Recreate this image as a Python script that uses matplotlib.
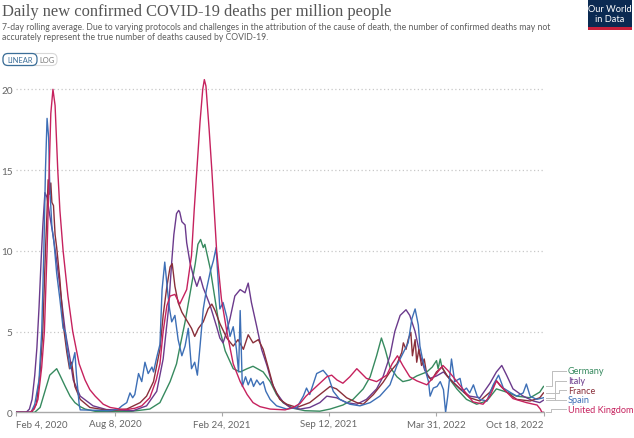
import matplotlib
matplotlib.use("Agg")
import matplotlib.pyplot as plt
import matplotlib.dates as mdates
from matplotlib.patches import FancyBboxPatch, Rectangle
import pandas as pd


# Data (7-day average, deaths per million)

germany_dates = ['2020-02-04', '2020-03-11', '2020-03-21', '2020-03-30', '2020-04-08', '2020-04-21',
                 '2020-04-27', '2020-05-07', '2020-05-16', '2020-05-25', '2020-06-04', '2020-06-13',
                 '2020-07-02', '2020-09-05', '2020-10-12', '2020-10-31', '2020-11-19', '2020-12-01',
                 '2020-12-07', '2020-12-17', '2020-12-26', '2021-01-05', '2021-01-10', '2021-01-15',
                 '2021-01-20', '2021-01-23', '2021-02-02', '2021-02-11', '2021-02-20', '2021-03-02',
                 '2021-03-17', '2021-03-30', '2021-04-12', '2021-04-23', '2021-05-12', '2021-05-25',
                 '2021-06-06', '2021-06-18', '2021-07-07', '2021-07-29', '2021-08-26', '2021-09-14',
                 '2021-10-08', '2021-10-27', '2021-11-15', '2021-11-28', '2021-12-10', '2021-12-19',
                 '2021-12-26', '2022-01-04', '2022-01-17', '2022-01-28', '2022-02-10', '2022-02-23',
                 '2022-03-14', '2022-03-24', '2022-04-01', '2022-04-04', '2022-04-08', '2022-04-11',
                 '2022-04-20', '2022-05-09', '2022-05-27', '2022-06-15', '2022-07-04', '2022-07-22',
                 '2022-08-10', '2022-08-29', '2022-09-23', '2022-10-11', '2022-10-18']
germany_vals = [0, 0, 0.3, 1.3, 2.3, 2.7,
                2.3, 1.6, 1.0, 0.6, 0.35, 0.2,
                0.06, 0.05, 0.2, 0.6, 1.9, 3.0,
                4.0, 5.6, 7.3, 9.2, 10.4, 10.7,
                10.2, 10.4, 8.9, 7.0, 5.1, 3.8,
                2.7, 2.5, 2.7, 2.85, 2.5, 1.9,
                1.1, 0.6, 0.25, 0.1, 0.07, 0.2,
                0.45, 0.8, 1.45, 2.2, 3.5, 4.6,
                3.9, 2.8, 2.2, 1.9, 2.0, 2.25,
                2.5, 2.8, 3.2, 2.7, 3.3, 2.8,
                2.3, 1.45, 0.8, 0.5, 0.7, 1.45,
                1.25, 1.0, 0.9, 1.25, 1.6]

italy_dates = ['2020-02-04', '2020-02-24', '2020-03-01', '2020-03-06', '2020-03-11', '2020-03-15',
               '2020-03-19', '2020-03-23', '2020-03-26', '2020-03-30', '2020-04-03', '2020-04-08',
               '2020-04-14', '2020-04-20',
               '2020-04-27', '2020-05-07', '2020-05-16', '2020-05-22', '2020-06-04', '2020-06-16',
               '2020-06-28', '2020-07-23', '2020-09-11', '2020-10-06', '2020-10-25', '2020-11-06',
               '2020-11-16', '2020-11-22', '2020-11-26', '2020-12-01', '2020-12-05', '2020-12-07',
               '2020-12-11', '2020-12-17', '2020-12-20', '2020-12-26', '2021-01-01', '2021-01-08',
               '2021-01-14', '2021-01-20', '2021-01-26', '2021-02-02', '2021-02-14', '2021-02-20',
               '2021-02-26', '2021-03-03', '2021-03-11', '2021-03-20', '2021-03-30', '2021-04-08',
               '2021-04-14', '2021-04-20', '2021-04-30', '2021-05-09', '2021-05-19', '2021-05-28',
               '2021-06-06', '2021-06-19', '2021-07-01', '2021-07-20', '2021-08-07', '2021-08-26',
               '2021-09-08', '2021-09-26', '2021-10-15', '2021-11-03', '2021-11-21', '2021-12-10',
               '2021-12-22', '2022-01-04', '2022-01-13', '2022-01-23', '2022-02-03', '2022-02-10',
               '2022-02-20', '2022-03-01', '2022-03-10', '2022-03-20', '2022-04-01', '2022-04-14',
               '2022-04-26', '2022-05-15', '2022-06-02', '2022-06-21', '2022-07-10', '2022-07-22',
               '2022-08-01', '2022-08-10', '2022-08-22', '2022-09-10', '2022-09-29', '2022-10-11',
               '2022-10-18']
italy_vals = [0, 0, 0.2, 0.8, 2.3, 4.0,
              6.5, 9.5, 11.5, 13.6, 13.3, 12.2,
              11.0, 9.6,
              7.8, 5.0, 3.3, 2.0, 1.0, 0.7,
              0.4, 0.17, 0.1, 0.4, 1.3, 3.3,
              6.4, 9.3, 11.0, 12.3, 12.5, 12.4,
              11.8, 11.6, 10.5, 9.3, 8.5, 7.8,
              8.4, 7.7, 7.2, 6.6, 5.3, 4.6,
              4.3, 4.8, 5.8, 7.2, 7.6, 7.4,
              8.0, 6.8, 5.3, 3.9, 2.9, 1.85,
              1.2, 0.6, 0.3, 0.2, 0.3, 0.6,
              1.0, 0.9, 0.6, 0.5, 0.8, 1.45,
              2.2, 3.5, 5.0, 6.0, 6.35, 6.0,
              5.0, 3.6, 2.6, 2.1, 2.25, 2.5,
              2.06, 1.45, 1.0, 0.9, 1.8, 2.5,
              2.9, 2.3, 1.45, 1.0, 0.7, 0.6,
              0.75]

france_dates = ['2020-02-04', '2020-03-05', '2020-03-14', '2020-03-21', '2020-03-26', '2020-03-31',
                '2020-04-03', '2020-04-05', '2020-04-08', '2020-04-10', '2020-04-12', '2020-04-15',
                '2020-04-18', '2020-04-21', '2020-04-27', '2020-05-03', '2020-05-10', '2020-05-15',
                '2020-05-19', '2020-05-25', '2020-06-04', '2020-06-22', '2020-07-30', '2020-08-30',
                '2020-09-24', '2020-10-06', '2020-10-19', '2020-10-31', '2020-11-06', '2020-11-13',
                '2020-11-19', '2020-11-23', '2020-11-28', '2020-12-04', '2020-12-11', '2020-12-20',
                '2020-12-29', '2021-01-04', '2021-01-11', '2021-01-20', '2021-01-29', '2021-02-05',
                '2021-02-11', '2021-02-20', '2021-03-05', '2021-03-17', '2021-03-26', '2021-04-05',
                '2021-04-14', '2021-04-23', '2021-05-03', '2021-05-12', '2021-05-22', '2021-05-31',
                '2021-06-12', '2021-06-25', '2021-07-14', '2021-08-07', '2021-08-26', '2021-09-14',
                '2021-09-26', '2021-10-15', '2021-11-03', '2021-11-15', '2021-12-04', '2021-12-22',
                '2022-01-04', '2022-01-17', '2022-01-26', '2022-01-29', '2022-02-03', '2022-02-07',
                '2022-02-12', '2022-02-15', '2022-02-20', '2022-02-23', '2022-02-27', '2022-03-04',
                '2022-03-09', '2022-03-14', '2022-03-23', '2022-04-01', '2022-04-11', '2022-04-20',
                '2022-05-02', '2022-05-15', '2022-06-02', '2022-06-21', '2022-07-10', '2022-07-22',
                '2022-07-29', '2022-08-10', '2022-08-29', '2022-09-23', '2022-10-11', '2022-10-18']
france_vals = [0, 0, 0.5, 2.5, 5.0, 10.0,
               12.5, 14.4, 13.5, 14.2, 13.0, 12.8,
               11.0, 10.2, 8.2, 5.5, 3.7, 2.7,
               3.1, 1.6, 0.8, 0.3, 0.1, 0.2,
               0.6, 1.0, 1.9, 3.9, 6.0, 7.8,
               9.0, 9.2, 7.8, 6.8, 6.2, 5.7,
               5.2, 4.7, 5.2, 5.6, 6.4, 6.7,
               6.3, 5.5, 4.6, 4.1, 4.5, 3.9,
               4.8, 4.3, 4.5, 3.9, 2.7, 1.6,
               0.8, 0.5, 0.3, 0.6, 1.1, 1.6,
               1.45, 0.9, 0.6, 0.5, 1.1, 1.85,
               2.5, 3.0, 3.7, 4.3, 3.9, 4.5,
               4.95, 3.5, 4.5, 3.1, 3.9, 2.9,
               3.3, 2.3, 2.0, 2.5, 2.8, 2.3,
               1.85, 1.45, 0.9, 0.7, 1.25, 1.95,
               1.65, 1.25, 0.8, 0.7, 0.9, 1.2]

spain_dates = ['2020-02-04', '2020-03-04', '2020-03-11', '2020-03-19', '2020-03-24', '2020-03-28',
               '2020-03-31', '2020-04-03', '2020-04-06', '2020-04-08', '2020-04-12', '2020-04-16',
               '2020-04-21', '2020-04-27', '2020-05-03', '2020-05-07', '2020-05-10', '2020-05-16',
               '2020-05-20', '2020-05-25', '2020-05-28', '2020-06-02', '2020-06-04', '2020-07-30',
               '2020-08-14', '2020-08-21', '2020-08-30', '2020-09-05', '2020-09-10', '2020-09-14',
               '2020-09-21', '2020-09-27', '2020-10-03', '2020-10-09', '2020-10-16', '2020-10-19',
               '2020-10-25', '2020-10-31', '2020-11-04', '2020-11-09', '2020-11-14', '2020-11-18',
               '2020-11-22', '2020-11-28', '2020-12-04', '2020-12-11', '2020-12-17', '2020-12-23',
               '2020-12-29', '2021-01-04', '2021-01-09', '2021-01-14', '2021-01-20', '2021-01-26',
               '2021-02-02', '2021-02-08', '2021-02-13', '2021-02-17', '2021-02-20', '2021-02-26',
               '2021-03-05', '2021-03-11', '2021-03-17', '2021-03-23', '2021-03-27', '2021-03-30',
               '2021-04-03', '2021-04-09', '2021-04-14', '2021-04-19', '2021-04-24', '2021-04-30',
               '2021-05-06', '2021-05-12', '2021-05-17', '2021-05-25', '2021-06-06', '2021-06-25',
               '2021-07-14', '2021-07-26', '2021-08-01', '2021-08-07', '2021-08-13', '2021-08-20',
               '2021-08-26', '2021-09-01', '2021-09-11', '2021-09-20', '2021-10-02', '2021-10-21',
               '2021-11-09', '2021-11-28', '2021-12-16', '2022-01-04', '2022-01-17', '2022-01-29',
               '2022-02-07', '2022-02-14', '2022-02-20', '2022-02-26', '2022-03-01', '2022-03-07',
               '2022-03-17', '2022-03-20', '2022-03-26', '2022-04-02', '2022-04-08', '2022-04-14',
               '2022-04-18', '2022-04-22', '2022-04-29', '2022-05-05', '2022-05-15', '2022-05-20',
               '2022-05-27', '2022-06-02', '2022-06-09', '2022-06-16', '2022-06-21', '2022-07-04',
               '2022-07-16', '2022-07-26', '2022-08-04', '2022-08-16', '2022-08-29', '2022-09-10',
               '2022-09-16', '2022-09-23', '2022-10-05', '2022-10-18']
spain_vals = [0, 0, 0.5, 2.0, 5.0, 10.0,
              15.0, 18.2, 17.0, 14.0, 11.5, 10.5,
              8.6, 7.0, 5.2, 5.0, 4.1, 2.7,
              3.0, 3.7, 2.3, 0.5, 0.15, 0.1,
              0.2, 0.4, 0.6, 1.2, 0.9, 1.1,
              2.4, 1.9, 3.1, 2.4, 2.8, 2.5,
              3.4, 4.2, 7.6, 9.3, 7.6, 6.4,
              5.6, 6.0, 4.5, 3.5, 4.1, 5.2,
              2.7, 3.1, 2.3, 4.1, 6.4, 7.6,
              8.7, 9.4, 10.2, 8.0, 6.4, 6.8,
              5.9, 4.7, 5.3, 3.9, 2.5, 6.3,
              1.6, 2.2, 1.7, 2.1, 1.6, 2.0,
              1.7, 1.9, 1.3, 0.8, 0.4, 0.2,
              0.3, 1.0, 1.5, 1.1, 1.7, 2.4,
              2.5, 2.6, 2.2, 1.3, 0.8, 0.5,
              0.4, 0.6, 1.0, 1.7, 2.9, 3.7,
              4.3, 5.8, 6.4, 5.4, 4.1, 3.1,
              1.9, 1.0, 1.5, 1.6, 1.9, 1.4,
              0.0, 1.0, 3.3, 1.9, 2.1, 1.3,
              1.5, 1.2, 1.7, 1.0, 0.8, 0.7,
              1.7, 2.3, 1.5, 1.25, 1.0, 1.2,
              1.75, 1.0, 0.8, 0.9]

uk_dates = ['2020-02-04', '2020-03-02', '2020-03-10', '2020-03-17', '2020-03-24', '2020-03-29',
            '2020-04-03', '2020-04-07', '2020-04-10', '2020-04-14', '2020-04-18', '2020-04-23',
            '2020-04-27', '2020-05-03', '2020-05-12', '2020-05-21', '2020-06-02', '2020-06-13',
            '2020-06-22', '2020-07-02', '2020-07-17', '2020-07-30', '2020-08-17', '2020-08-30',
            '2020-09-14', '2020-09-27', '2020-10-12', '2020-10-24', '2020-10-31', '2020-11-06',
            '2020-11-13', '2020-11-19', '2020-11-28', '2020-12-07', '2020-12-20', '2020-12-29',
            '2021-01-03', '2021-01-08', '2021-01-14', '2021-01-19', '2021-01-22', '2021-01-25',
            '2021-01-31', '2021-02-05', '2021-02-14', '2021-02-23', '2021-03-05', '2021-03-17',
            '2021-03-30', '2021-04-12', '2021-04-23', '2021-05-06', '2021-05-25', '2021-06-22',
            '2021-07-07', '2021-07-20', '2021-07-31', '2021-08-13', '2021-08-26', '2021-09-08',
            '2021-09-17', '2021-09-27', '2021-10-08', '2021-10-21', '2021-11-03', '2021-11-21',
            '2021-12-10', '2021-12-29', '2022-01-08', '2022-01-18', '2022-01-28', '2022-02-10',
            '2022-02-23', '2022-03-14', '2022-04-01', '2022-04-13', '2022-04-22', '2022-05-02',
            '2022-05-20', '2022-06-08', '2022-06-27', '2022-07-10', '2022-07-22', '2022-08-03',
            '2022-08-22', '2022-09-16', '2022-10-06', '2022-10-12', '2022-10-15', '2022-10-18']
uk_vals = [0, 0, 0.2, 0.8, 2.8, 5.0,
           10.0, 15.0, 18.5, 20.0, 19.0, 15.0,
           12.5, 10.0, 7.2, 5.0, 3.0, 2.0,
           1.4, 1.0, 0.5, 0.3, 0.2, 0.17,
           0.25, 0.4, 0.9, 2.0, 3.0, 5.0,
           6.6, 7.2, 7.3, 6.7, 7.6, 9.7,
           12.5, 15.0, 18.0, 20.0, 20.6, 20.2,
           17.5, 15.0, 10.0, 7.0, 5.0, 3.0,
           1.9, 1.1, 0.6, 0.35, 0.2, 0.15,
           0.3, 0.55, 1.0, 1.4, 1.8, 2.2,
           2.3, 2.0, 1.8, 2.2, 2.7, 2.1,
           1.9, 2.3, 3.0, 3.5, 2.9, 2.2,
           1.95, 1.7, 2.4, 2.9, 2.6, 2.2,
           1.45, 0.65, 0.5, 1.0, 1.95, 1.5,
           0.85, 0.6, 0.45, 0.2, 0.0, 0.0]

countries = ['Germany', 'Italy', 'France', 'Spain', 'United Kingdom']
colors = ['#378a5f', '#6b3a8c', '#8a2f3a', '#3d6fb6', '#c6225e']

tick_dates = ['2020-02-04', '2020-08-08', '2021-02-24', '2021-09-12', '2022-03-31', '2022-10-18']
tick_labels = ['Feb 4, 2020', 'Aug 8, 2020', 'Feb 24, 2021', 'Sep 12, 2021', 'Mar 31, 2022', 'Oct 18, 2022']


W, H = 634, 439
fig = plt.figure(figsize=(W / 100, H / 100), dpi=100)
fig.patch.set_facecolor('white')

# main plot area (pixel box measured on the reference)
ax = fig.add_axes([15.5 / W, (H - 413.3) / H, 528 / W, 21 * 16.15 / H])

series = [
    (germany_dates, germany_vals),
    (italy_dates, italy_vals),
    (france_dates, france_vals),
    (spain_dates, spain_vals),
    (uk_dates, uk_vals),
]
for (d, v), c in zip(series, colors):
    ax.plot(pd.to_datetime(d), v, color=c, lw=1.0, solid_joinstyle='round', zorder=3)

ax.set_xlim(pd.Timestamp('2020-02-04'), pd.Timestamp('2022-10-18'))
ax.set_ylim(0, 21)

for y in [5, 10, 15, 20]:
    ax.axhline(y, color='#c8c8c8', lw=0.9, ls=(0, (1, 2)), zorder=1)

for s in ['top', 'right', 'left']:
    ax.spines[s].set_visible(False)
ax.spines['bottom'].set_color('#a8a8a8')
ax.spines['bottom'].set_linewidth(1.0)

ax.set_yticks([0, 5, 10, 15, 20])
ax.set_yticklabels(['0', '5', '10', '15', '20'])
ax.tick_params(axis='y', length=0, pad=2, labelsize=7.2, labelcolor='#666666')
for lab in ax.get_yticklabels():
    lab.set_family('Lato')

ax.set_xticks(pd.to_datetime(tick_dates))
ax.set_xticklabels(tick_labels)
ax.tick_params(axis='x', length=3, width=0.8, color='#a8a8a8', pad=2,
               labelsize=7.0, labelcolor='#666666')
xl = ax.get_xticklabels()
for lab in xl:
    lab.set_family('Lato')
xl[0].set_ha('left')
xl[-1].set_ha('right')

# overlay in pixel coordinates for the header and the line labels
ov = fig.add_axes([0, 0, 1, 1])
ov.set_xlim(0, W)
ov.set_ylim(H, 0)
ov.axis('off')

ov.text(2, 16, 'Daily new confirmed COVID-19 deaths per million people',
        family='Liberation Serif', fontsize=11.9, color='#555555', va='baseline', ha='left')
ov.text(2, 29.5, '7-day rolling average. Due to varying protocols and challenges in the attribution '
        'of the cause of death, the number of confirmed deaths may not',
        family='Lato', fontsize=6.2, color='#5e5e5e', va='baseline')
ov.text(2, 40, 'accurately represent the true number of deaths caused by COVID-19.',
        family='Lato', fontsize=6.2, color='#5e5e5e', va='baseline')

# LINEAR / LOG toggle
ov.add_patch(FancyBboxPatch((3, 54.5), 54, 12, boxstyle='round,pad=0,rounding_size=5',
                            fc='white', ec='#d8d8d8', lw=0.8))
ov.add_patch(FancyBboxPatch((3, 54.5), 34, 12, boxstyle='round,pad=0,rounding_size=5',
                            fc='white', ec='#3b6e98', lw=0.9))
ov.text(20, 60.8, 'LINEAR', family='Lato', fontsize=5.4, color='#3b6e98', ha='center', va='center')
ov.text(46.5, 60.8, 'LOG', family='Lato', fontsize=5.4, color='#777777', ha='center', va='center')

# logo
ov.add_patch(Rectangle((588, 1), 44, 27, fc='#0b2a52', ec='none'))
ov.add_patch(Rectangle((588, 27.5), 44, 3, fc='#c8203a', ec='none'))
ov.text(610, 9, 'Our World', family='Lato', fontsize=6.7, color='white', ha='center', va='center')
ov.text(610, 19.5, 'in Data', family='Lato', fontsize=6.7, color='white', ha='center', va='center')

# line labels with elbow leader lines
label_y = [372, 381.7, 391.3, 400.7, 410.3]
elbow_x = [552, 555, 559, 555, 551]
fig.canvas.draw()
for (d, v), c, name, ly, ex in zip(series, colors, countries, label_y, elbow_x):
    px, py = ax.transData.transform((mdates.date2num(pd.Timestamp(d[-1])), v[-1]))
    py = H - py
    ov.plot([px + 2, ex, ex, 566], [py, py, ly, ly], color='#bdbdbd', lw=0.7)
    ov.text(568, ly, name, family='Lato', fontsize=6.6, color=c, ha='left', va='center')

fig.savefig('out.png', dpi=100)
